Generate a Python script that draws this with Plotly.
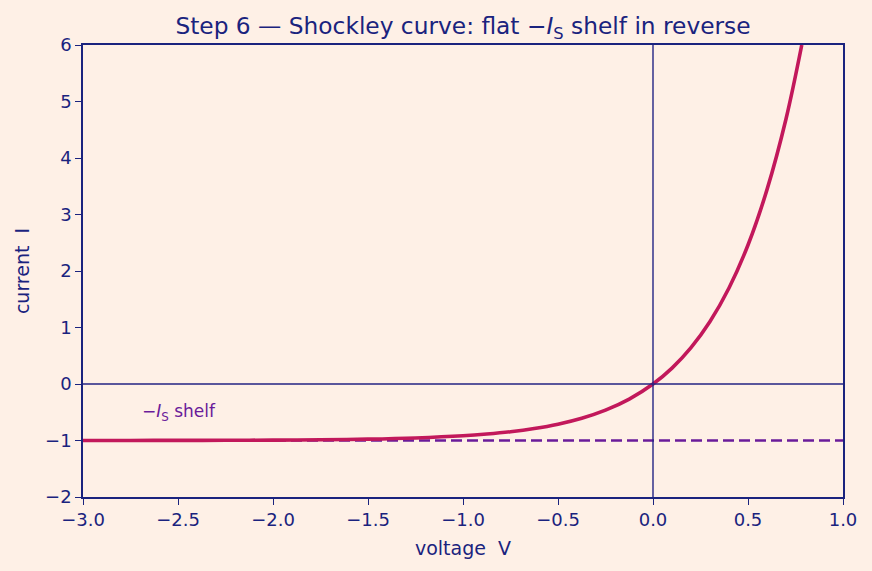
import plotly.graph_objects as go

# Values
voltage = [-3.0, -2.75, -2.5, -2.25, -2.0, -1.75, -1.5, -1.25, -1.0, -0.875, -0.75, -0.625, -0.5, -0.375,
           -0.25, -0.125, 0.0, 0.1, 0.2, 0.3, 0.4, 0.5, 0.6, 0.7, 0.783]
current = [-0.999, -0.999, -0.998, -0.996, -0.993, -0.987, -0.976, -0.955, -0.917, -0.886, -0.845, -0.788,
           -0.711, -0.606, -0.463, -0.267, 0.0, 0.282, 0.644, 1.107, 1.70, 2.46, 3.44, 4.69, 6.0]
shelf_v = [-3.0, 1.0]
shelf_i = [-1.0, -1.0]
x_ticks = [-3.0, -2.5, -2.0, -1.5, -1.0, -0.5, 0.0, 0.5, 1.0]
y_ticks = [-2, -1, 0, 1, 2, 3, 4, 5, 6]

navy = "#1a237e"
bg = "#fef0e6"
FONT = "DejaVu Sans"

fig = go.Figure()
fig.add_trace(go.Scatter(x=shelf_v, y=shelf_i, mode="lines",
                         line=dict(color="#6a1b9a", width=2.4, dash="11px,5px"), showlegend=False))
fig.add_trace(go.Scatter(x=voltage, y=current, mode="lines", line_shape="spline",
                         line=dict(color="#c2185b", width=3.6), showlegend=False))

fig.add_shape(type="line", x0=0, x1=0, y0=0, y1=1, yref="paper", xref="x",
              line=dict(color="#232383", width=1.4), layer="above")
fig.add_shape(type="line", x0=0, x1=1, xref="paper", y0=0, y1=0, yref="y",
              line=dict(color="#232383", width=1.4), layer="above")

fig.add_annotation(x=-2.7, y=-0.5, text="\u2212<i>I</i><sub>S</sub> shelf", showarrow=False,
                   xanchor="left", yanchor="middle", font=dict(color="#6a1b9a", size=17, family=FONT))

axis_common = dict(showgrid=False, zeroline=False, showline=True, mirror=True, linecolor=navy, linewidth=1.6,
                   ticks="outside", ticklen=6, tickcolor=navy, tickwidth=1.3,
                   tickfont=dict(color=navy, size=18, family=FONT))

fig.update_layout(
    width=872, height=571,
    paper_bgcolor=bg, plot_bgcolor=bg,
    margin=dict(l=83, r=29, t=45, b=74),
    title=dict(text="Step 6 \u2014 Shockley curve: flat \u2212<i>I</i><sub>S</sub> shelf in reverse",
               x=463 / 872, xanchor="center", y=1 - 26 / 571, yanchor="middle",
               font=dict(color=navy, size=23.3, family=FONT)),
    xaxis=dict(range=[-3, 1], tickvals=x_ticks, ticktext=[f"{v:.1f}".replace("-", "\u2212") for v in x_ticks],
               title=dict(text="voltage  V", font=dict(color=navy, size=19, family=FONT), standoff=12),
               **axis_common),
    yaxis=dict(range=[-2, 6], tickvals=y_ticks, ticktext=[str(v).replace("-", "\u2212") for v in y_ticks],
               title=dict(text="current  I", font=dict(color=navy, size=19, family=FONT), standoff=10),
               **axis_common),
)

fig.write_html("out.html")
